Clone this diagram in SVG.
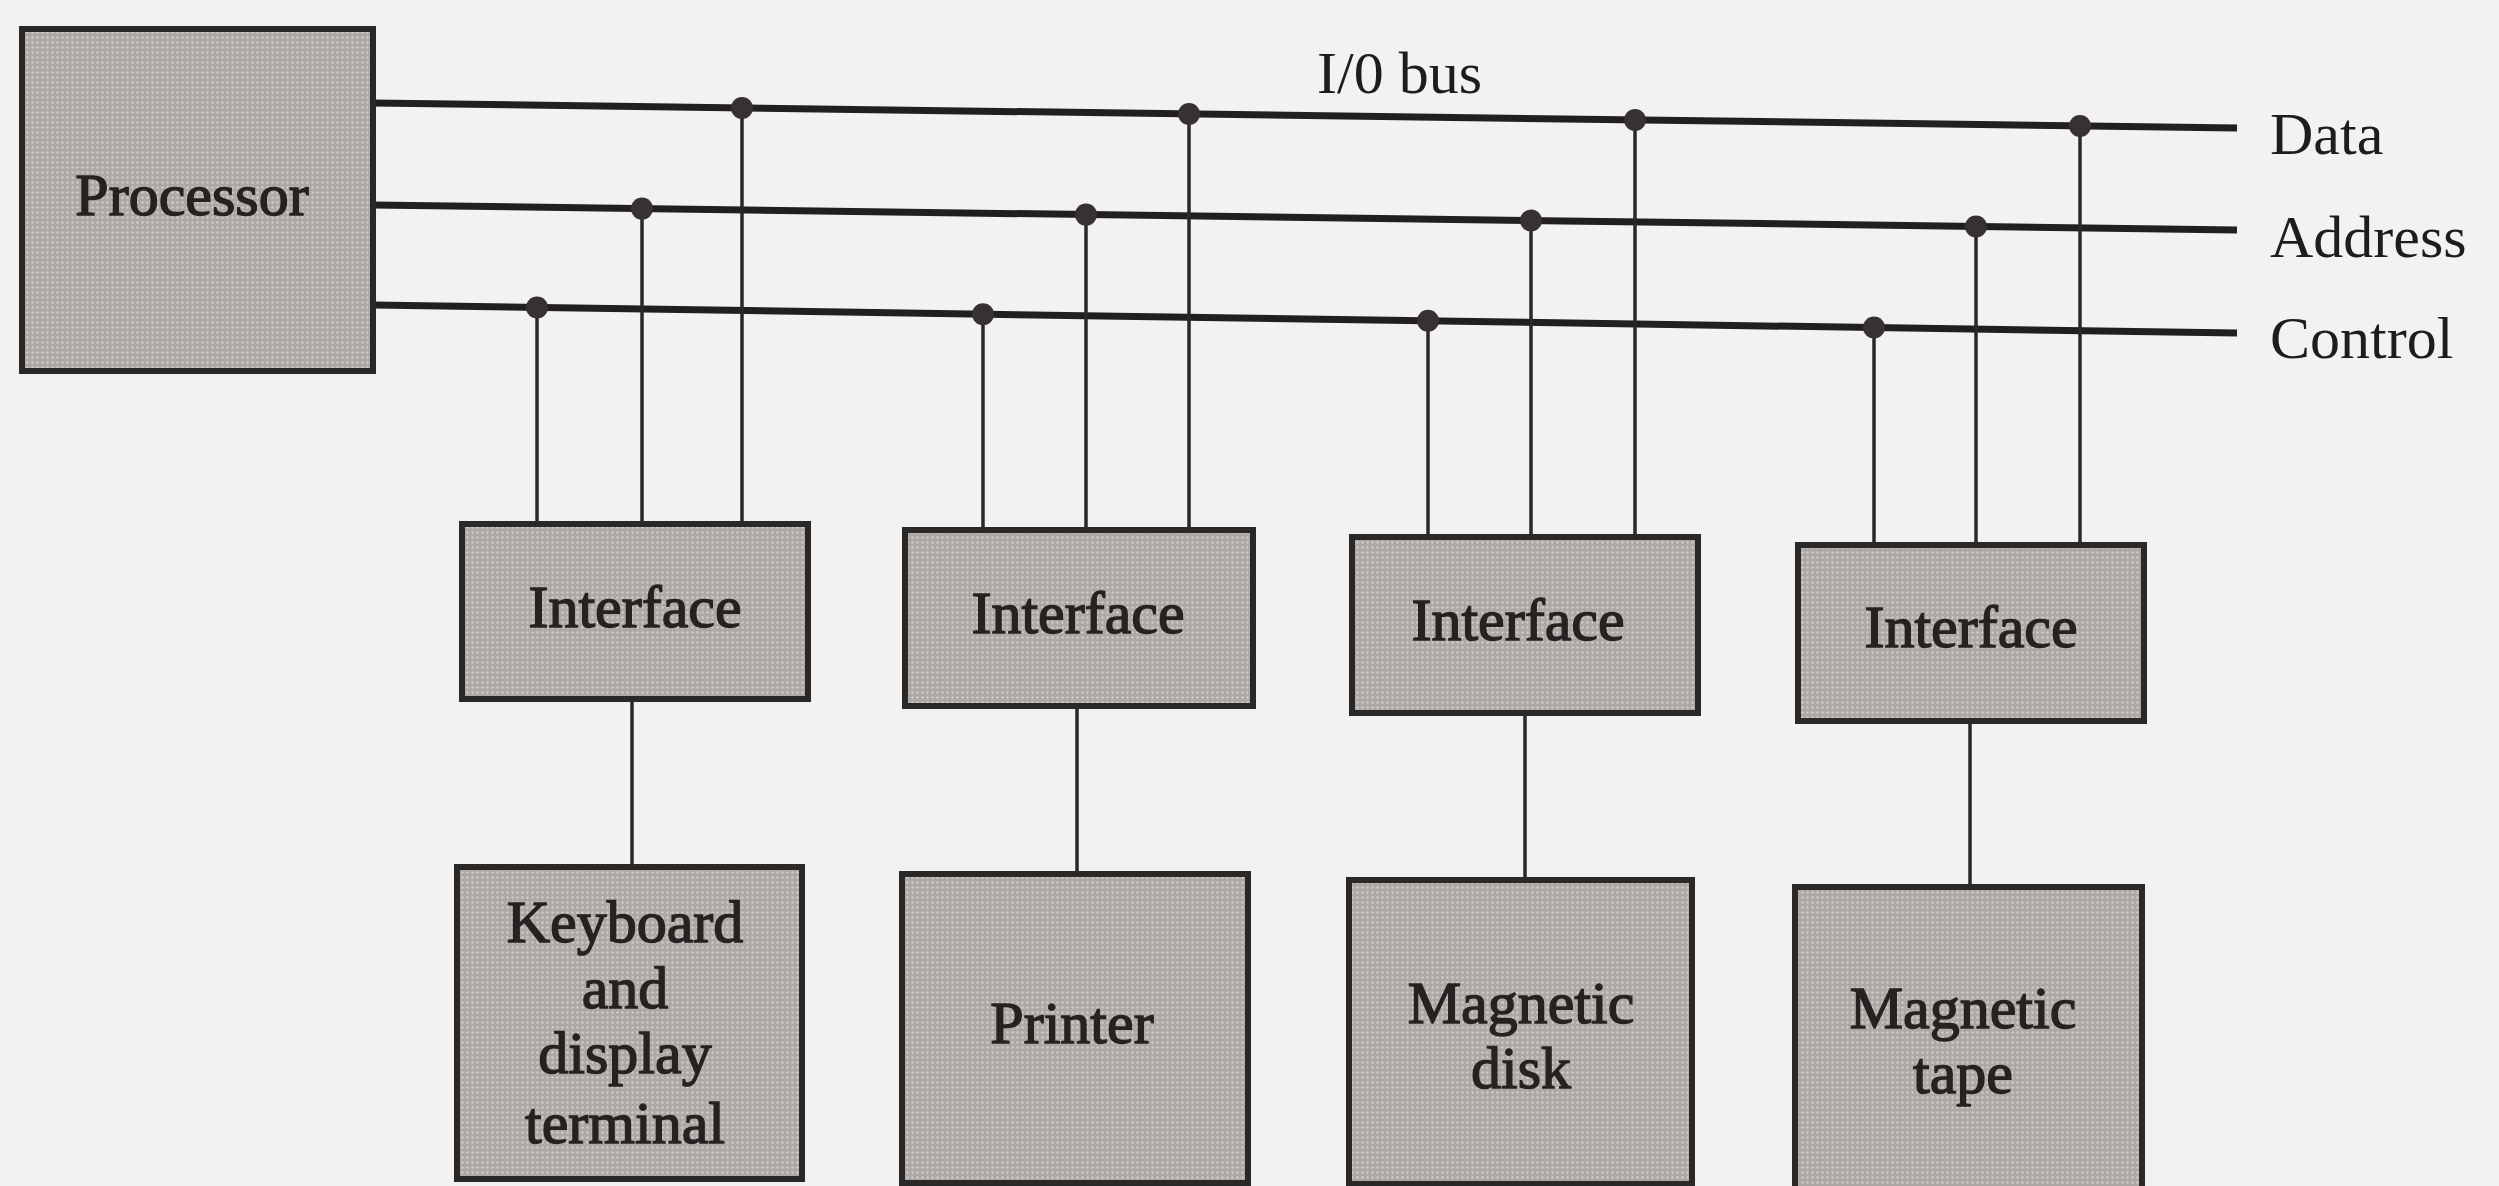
<svg xmlns="http://www.w3.org/2000/svg" width="2499" height="1186" viewBox="0 0 2499 1186">
<defs>
<pattern id="stip" width="5" height="5" patternUnits="userSpaceOnUse">
<rect width="5" height="5" fill="#aca8a6"/>
<circle cx="2.5" cy="2.5" r="1.2" fill="#d0cdcb"/>
</pattern>
<style>
.box{fill:url(#stip);stroke:#2b2828;stroke-width:6}
.bus{stroke:#221f1f;stroke-width:7;fill:none;stroke-linecap:butt}
.tap{stroke:#2b2828;stroke-width:3.5;fill:none}
.dot{fill:#363232}
.bt{font-family:"Liberation Serif","Times New Roman",serif;font-size:60px;fill:#262222;stroke:#262222;stroke-width:1.4;text-anchor:middle}
.lbl{font-family:"Liberation Serif","Times New Roman",serif;font-size:60px;fill:#1f1c1c}
</style>
</defs>
<rect width="2499" height="1186" fill="#f3f2f0"/>

<g id="connectors">
<line class="bus" x1="373" y1="103" x2="2237" y2="128"/>
<line class="bus" x1="373" y1="205" x2="2237" y2="230"/>
<line class="bus" x1="373" y1="305" x2="2237" y2="333"/>
<line class="tap" x1="537" y1="307" x2="537" y2="524"/>
<line class="tap" x1="642" y1="209" x2="642" y2="524"/>
<line class="tap" x1="742" y1="108" x2="742" y2="524"/>
<line class="tap" x1="983" y1="314" x2="983" y2="530"/>
<line class="tap" x1="1086" y1="215" x2="1086" y2="530"/>
<line class="tap" x1="1189" y1="114" x2="1189" y2="530"/>
<line class="tap" x1="1428" y1="321" x2="1428" y2="537"/>
<line class="tap" x1="1531" y1="220" x2="1531" y2="537"/>
<line class="tap" x1="1635" y1="120" x2="1635" y2="537"/>
<line class="tap" x1="1874" y1="327" x2="1874" y2="545"/>
<line class="tap" x1="1976" y1="226" x2="1976" y2="545"/>
<line class="tap" x1="2080" y1="126" x2="2080" y2="545"/>
<line class="tap" x1="632" y1="699" x2="632" y2="867"/>
<line class="tap" x1="1077" y1="706" x2="1077" y2="874"/>
<line class="tap" x1="1525" y1="713" x2="1525" y2="880"/>
<line class="tap" x1="1970" y1="721" x2="1970" y2="887"/>
<circle class="dot" cx="537" cy="307.5" r="11"/>
<circle class="dot" cx="642" cy="208.6" r="11"/>
<circle class="dot" cx="742" cy="108" r="11"/>
<circle class="dot" cx="983" cy="314.2" r="11"/>
<circle class="dot" cx="1086" cy="214.6" r="11"/>
<circle class="dot" cx="1189" cy="114" r="11"/>
<circle class="dot" cx="1428" cy="320.8" r="11"/>
<circle class="dot" cx="1531" cy="220.5" r="11"/>
<circle class="dot" cx="1635" cy="120" r="11"/>
<circle class="dot" cx="1874" cy="327.5" r="11"/>
<circle class="dot" cx="1976" cy="226.5" r="11"/>
<circle class="dot" cx="2080" cy="126" r="11"/>
<text class="lbl" x="1317" y="93">I/0 bus</text>
<text class="lbl" x="2270" y="154">Data</text>
<text class="lbl" x="2270" y="257">Address</text>
<text class="lbl" x="2270" y="358">Control</text>
</g>

<g id="processor">
<rect class="box" x="22" y="29" width="351" height="342"/>
<text class="bt" x="192" y="215">Processor</text>
</g>

<g id="interface1">
<rect class="box" x="462" y="524" width="346" height="175"/>
<text class="bt" x="635" y="627">Interface</text>
</g>
<g id="interface2">
<rect class="box" x="905" y="530" width="348" height="176"/>
<text class="bt" x="1078" y="633">Interface</text>
</g>
<g id="interface3">
<rect class="box" x="1352" y="537" width="346" height="176"/>
<text class="bt" x="1518" y="640">Interface</text>
</g>
<g id="interface4">
<rect class="box" x="1798" y="545" width="346" height="176"/>
<text class="bt" x="1971" y="647">Interface</text>
</g>

<g id="keyboard">
<rect class="box" x="457" y="867" width="345" height="312"/>
<text class="bt" x="625" y="942">Keyboard</text>
<text class="bt" x="625" y="1008">and</text>
<text class="bt" x="625" y="1073">display</text>
<text class="bt" x="625" y="1143">terminal</text>
</g>
<g id="printer">
<rect class="box" x="902" y="874" width="346" height="309"/>
<text class="bt" x="1072" y="1043">Printer</text>
</g>
<g id="disk">
<rect class="box" x="1349" y="880" width="343" height="304"/>
<text class="bt" x="1521" y="1023">Magnetic</text>
<text class="bt" x="1521" y="1088">disk</text>
</g>
<g id="tape">
<rect class="box" x="1795" y="887" width="347" height="310"/>
<text class="bt" x="1963" y="1028">Magnetic</text>
<text class="bt" x="1963" y="1093">tape</text>
</g>
</svg>
